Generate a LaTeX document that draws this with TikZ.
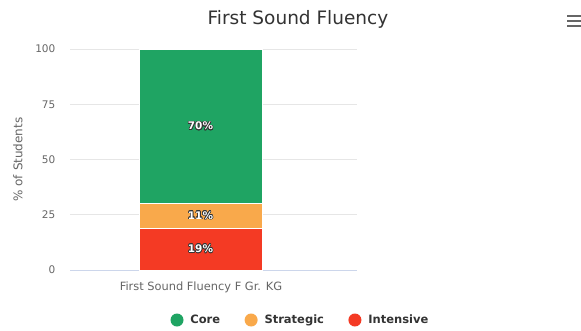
\documentclass[tikz,border=0pt]{standalone}
\usepackage{fontspec}
\setmainfont{DejaVu Sans}
\usepackage{contour}
\contourlength{0.6pt}
\usetikzlibrary{positioning}
\definecolor{corecol}{HTML}{1FA463}
\definecolor{stratcol}{HTML}{F9A94B}
\definecolor{intencol}{HTML}{F43A24}
\definecolor{titlegray}{HTML}{333333}
\definecolor{axgray}{HTML}{666666}
\definecolor{gridgray}{HTML}{E6E6E6}
\definecolor{basecol}{HTML}{CCD6EB}
\newcommand{\dlab}[1]{{\color{white}\contour{black!80}{#1}}}

\begin{document}
\begin{tikzpicture}[
  x=1pt, y=-1pt,
  node distance=6.5pt,
  seg/.style={draw=white, line width=0.8pt, minimum width=123pt, inner sep=0pt,
              font=\fontsize{10.5}{12}\selectfont\bfseries},
  tick/.style={anchor=east, inner sep=0pt, text=axgray, font=\fontsize{10.5}{12}\selectfont},
  gridline/.style={draw=gridgray, line width=0.8pt},
  legdot/.style={circle, minimum size=13pt, inner sep=0pt},
  legtxt/.style={inner sep=0pt, text height=8.5pt, text depth=2.5pt, text=titlegray,
                 font=\fontsize{11.5}{13}\selectfont\bfseries}
]
\useasboundingbox[fill=white] (0,0) rectangle (581,330);

% title and menu icon
\node[text=titlegray, font=\fontsize{18.5}{21}\selectfont] (title) at (298,19) {First Sound Fluency};
\foreach \y/\n in {15.7/a, 21/b, 26.3/c} {
  \coordinate (m\n) at (567,\y);
  \draw[axgray, line width=2pt] (m\n) -- ++(14,0);
}

% grid and y ticks
\foreach \v/\y in {25/214.75, 50/159.5, 75/104.25, 100/49} {
  \coordinate (g\v) at (70,\y);
  \draw[gridline] (g\v) -- ++(287,0);
}
\coordinate (g0) at (70,270);
\draw[basecol, line width=0.8pt] (g0) -- ++(287,0);
\foreach \v/\y in {0/270, 25/214.75, 50/159.5, 75/104.25, 100/49}
  \node[tick] (t\v) at (55.5,\y) {\v};
\node[rotate=90, text=axgray, font=\fontsize{12}{14}\selectfont] (ytitle) at (18,159.5) {\% of Students};

% stacked bar
\node[seg, fill=corecol, minimum height=154.7pt] (core) at (200.5,126.35) {\dlab{70\%}};
\node[seg, fill=stratcol, minimum height=24.3pt] (strat) at (200.5,215.85) {\dlab{11\%}};
\node[seg, fill=intencol, minimum height=42pt] (inten) at (200.5,249) {\dlab{19\%}};

\node[text=axgray, font=\fontsize{11.4}{13}\selectfont] (xlab) at (201,287) {First Sound Fluency F Gr. KG};

% legend
\node[legdot, fill=corecol] (dcore) at (177,320) {};
\node[legtxt, right=of dcore] (lcore) {Core};
\node[legdot, fill=stratcol, right=24pt of lcore] (dstrat) {};
\node[legtxt, right=of dstrat] (lstrat) {Strategic};
\node[legdot, fill=intencol, right=24pt of lstrat] (dinten) {};
\node[legtxt, right=of dinten] (linten) {Intensive};
\end{tikzpicture}
\end{document}
